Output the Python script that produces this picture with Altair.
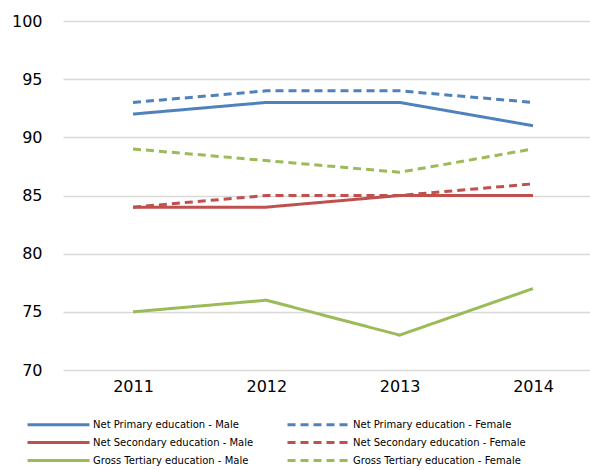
import altair as alt
import pandas as pd

years = [2011, 2012, 2013, 2014]
series_names = [
    "Net Primary education - Male",
    "Net Primary education - Female",
    "Net Secondary education - Male",
    "Net Secondary education - Female",
    "Gross Tertiary education - Male",
    "Gross Tertiary education - Female",
]
np_male = [92, 93, 93, 91]
np_female = [93, 94, 94, 93]
ns_male = [84, 84, 85, 85]
ns_female = [84, 85, 85, 86]
gt_male = [75, 76, 73, 77]
gt_female = [89, 88, 87, 89]

colors = ["#4F81BD", "#4F81BD", "#C0504D", "#C0504D", "#9BBB59", "#9BBB59"]
dashes = [[1, 0], [8, 5], [1, 0], [8, 5], [1, 0], [8, 5]]

rows = []
for name, vals in zip(series_names, [np_male, np_female, ns_male, ns_female, gt_male, gt_female]):
    for y, v in zip(years, vals):
        rows.append({"Year": y, "Value": v, "Series": name})
df = pd.DataFrame(rows)

FONT = "DejaVu Sans"

chart = alt.Chart(df).mark_line(strokeWidth=3).encode(
    x=alt.X("Year:Q", title=None,
            scale=alt.Scale(domain=[2010.475, 2014.4275], nice=False, zero=False),
            axis=alt.Axis(values=years, format="d", labelFontSize=16, labelColor="#000000", labelFont=FONT,
                          domain=False, ticks=False, labelPadding=8, grid=False, labelFlush=False)),
    y=alt.Y("Value:Q", title=None,
            scale=alt.Scale(domain=[70, 100], nice=False, zero=False),
            axis=alt.Axis(values=[70, 75, 80, 85, 90, 95, 100], labelFontSize=16, labelColor="#000000",
                          labelFont=FONT, domain=False, ticks=False, labelPadding=21,
                          gridColor="#D9D9D9", gridWidth=1.5)),
    color=alt.Color("Series:N", sort=series_names, title=None,
                    scale=alt.Scale(domain=series_names, range=colors)),
    strokeDash=alt.StrokeDash("Series:N", sort=series_names, title=None,
                              scale=alt.Scale(domain=series_names, range=dashes)),
).properties(
    width=527, height=349,
    autosize=alt.AutoSizeParams(type="none"),
    padding={"left": 63, "top": 21, "right": 0, "bottom": 100},
).configure_view(
    stroke=None
).configure_legend(
    orient="none", legendX=13, legendY=396, direction="horizontal", columns=2,
    symbolType="M-9.33,0H1", symbolSize=144, symbolStrokeWidth=3,
    labelFont=FONT, labelFontSize=10, labelColor="#000000", labelLimit=300,
    columnPadding=27, rowPadding=4, labelOffset=2, padding=0,
)

chart.save("out.html", embed_options={"renderer": "svg", "actions": False})
